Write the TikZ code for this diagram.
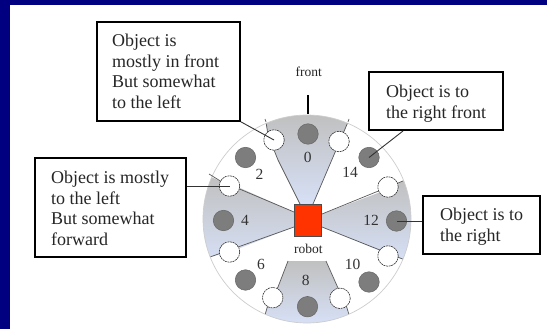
\documentclass[tikz,border=0pt]{standalone}
\usepackage{fontspec}
\setmainfont{Liberation Serif}
\definecolor{navy0}{RGB}{0,0,128}
\definecolor{wedgetop}{RGB}{192,192,192}
\definecolor{wedgebot}{RGB}{214,224,246}
\definecolor{ring}{RGB}{205,205,205}
\definecolor{dot}{RGB}{125,125,125}
\definecolor{robotred}{RGB}{255,51,0}
\tikzset{
 x=1pt,y=-1pt,
 wedge/.style={top color=wedgetop,bottom color=wedgebot,draw=none},
 edgeline/.style={draw=black!65,line width=0.7pt},
 gdot/.style={circle,fill=dot,draw=black!60,line width=0.5pt,minimum size=20.5pt,inner sep=0pt},
 wdot/.style={circle,fill=white,draw=black!80,dash pattern=on 2pt off 0.7pt,line width=0.6pt,minimum size=20.5pt,inner sep=0pt},
 num/.style={font=\fontsize{15.5}{15.5}\selectfont,text=black!80,inner sep=0pt},
 small/.style={font=\fontsize{13.5}{14}\selectfont,text=black!85,inner sep=0pt},
 callout/.style={draw=black,line width=1.2pt,fill=white,inner sep=0pt},
 ctext/.style={font=\fontsize{18}{20.7}\selectfont,align=left,anchor=north west,inner sep=0pt,text=black!85},
 lead/.style={line width=0.9pt,draw=black!80},
}
\begin{document}
\begin{tikzpicture}
\useasboundingbox (0,0) rectangle (547,329);
\fill[navy0] (0,0) rectangle (547,329);
\fill[white] (10,5) rectangle (547,329);
% disc
\begin{scope}
 \clip (307,219) circle[radius=104];
 \shade[wedge] (300,204) -- (278,160) -- (268,135) -- (266,122) -- (272,115) -- (342,115) -- (348,122) -- (313,204) -- cycle;
 \shade[wedge] (294,212) -- (240,188) -- (222,182) -- (211,177) -- (203,180) -- (203,262) -- (210,257) -- (230,252) -- (294,227) -- cycle;
 \shade[wedge] (322,214) -- (378,193) -- (403,181) -- (411,180) -- (411,262) -- (405,260) -- (378,250) -- (322,227) -- cycle;
 \shade[wedge] (288,261) -- (326,261) -- (338,288) -- (347,308) -- (350,318) -- (351,323) -- (263,323) -- (265,315) -- (267,308) -- (278,287) -- cycle;
 \draw[edgeline] (300,204) -- (278,160) -- (268,135) -- (266,122);
 \draw[edgeline] (313,204) -- (348,122);
 \draw[edgeline] (294,212) -- (230,185);
 \draw[edgeline] (294,227) -- (210,257);
 \draw[edgeline] (322,214) -- (403,181);
 \draw[edgeline] (322,227) -- (405,260);
 \draw[edgeline] (288,261) -- (278,287) -- (267,308) -- (265,315);
 \draw[edgeline] (326,261) -- (338,288) -- (347,308) -- (350,318);
\end{scope}
\draw[ring,line width=0.7pt] (307,219) circle[radius=104];
\draw[edgeline] (209,174) -- (222,182);
\draw[edgeline] (266,122) -- (265,119);
\draw[edgeline] (348,122) -- (349,119);
% front tick
\coordinate (ticka) at (308,95);
\coordinate (tickb) at (308,114);
\draw[line width=2pt,black] (ticka) -- (tickb);
\node[small] (frontlab) at (308.7,71.7) {front};
% dots
\node[wdot] (w0l) at (274,140) {};
\node[wdot] (w0r) at (339,141.5) {};
\node[gdot] (g0) at (308,134) {};
\node[gdot] (g14) at (369,157.5) {};
\node[gdot] (g2) at (245.5,157.5) {};
\node[wdot] (w4u) at (229.5,186) {};
\node[gdot] (g4) at (223.5,220.5) {};
\node[wdot] (w4d) at (229.5,252) {};
\node[wdot] (w12u) at (388,187) {};
\node[gdot] (g12) at (396.5,221) {};
\node[wdot] (w12d) at (388,256) {};
\node[gdot] (g6) at (245.5,280) {};
\node[gdot] (g10) at (369,282) {};
\node[wdot] (w8l) at (272.7,297.7) {};
\node[wdot] (w8r) at (340,298.3) {};
\node[gdot] (g8) at (307.5,306.7) {};
% numbers
\node[num] (n0) at (307.7,157) {0};
\node[num] (n14) at (350,172.5) {14};
\node[num] (n2) at (259.5,174) {2};
\node[num] (n4) at (245,220) {4};
\node[num] (n12) at (371,220.7) {12};
\node[num] (n6) at (261,264) {6};
\node[num] (n10) at (352.7,264) {10};
\node[num] (n8) at (305.7,280) {8};
% robot
\node[draw=black!70,fill=robotred,line width=0.7pt,minimum width=27pt,minimum height=32pt,inner sep=0pt] (robot) at (307.7,220) {};
\node[small] (robotlab) at (308.3,249) {robot};
% callouts
\node[callout,minimum width=143pt,minimum height=99pt,line width=1.5pt] (b1) at (168.5,71.5) {};
\node[ctext] (t1) at (112,33.7) {Object is\\mostly in front\\But somewhat\\to the left};
\node[callout,minimum width=151pt,minimum height=99pt] (b2) at (110.5,207.5) {};
\node[ctext] (t2) at (51,170.7) {Object is mostly\\to the left\\But somewhat\\forward};
\node[callout,minimum width=134pt,minimum height=58pt] (b3) at (436,101) {};
\node[ctext] (t3) at (386,84.7) {Object is to\\the right front};
\node[callout,minimum width=117pt,minimum height=58pt] (b4) at (481.5,225) {};
\node[ctext] (t4) at (440,207.7) {Object is to\\the right};
% leaders
\coordinate (b3foot) at (403,131);
\draw[lead] (b1.south east) -- (w0l.center);
\draw[lead] (b2.east |- w4u) -- (w4u.center);
\draw[lead] (b3foot) -- (g14.center);
\draw[lead,line width=0.7pt] (g12.center) -- (b4.west |- g12);
\end{tikzpicture}
\end{document}
